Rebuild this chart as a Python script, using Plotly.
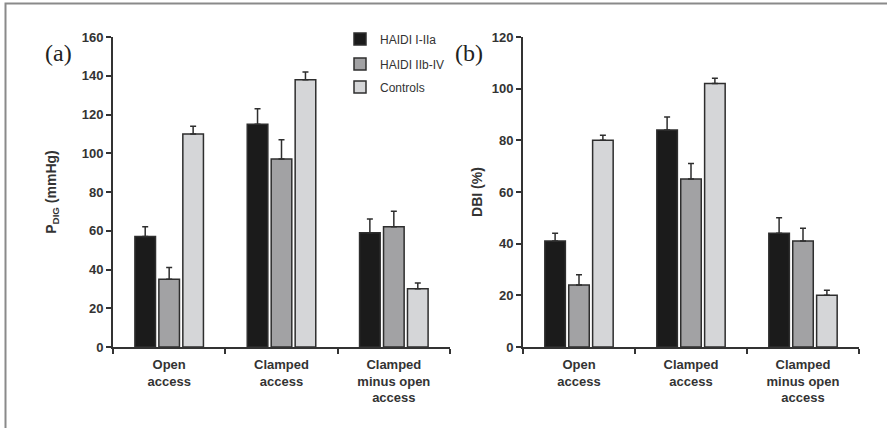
import plotly.graph_objects as go

# Groups and series
categories = ["Open<br>access", "Clamped<br>access", "Clamped<br>minus open<br>access"]
series_names = ["HAIDI I-IIa", "HAIDI IIb-IV", "Controls"]

# Panel (a): digital pressure, mmHg (mean, upper error)
pdig_mean = [[57, 115, 59], [35, 97, 62], [110, 138, 30]]
pdig_err = [[5, 8, 7], [6, 10, 8], [4, 4, 3]]
pdig_ticks = [0, 20, 40, 60, 80, 100, 120, 140, 160]

# Panel (b): digital brachial index, % (mean, upper error)
dbi_mean = [[41, 84, 44], [24, 65, 41], [80, 102, 20]]
dbi_err = [[3, 5, 6], [4, 6, 5], [2, 2, 2]]
dbi_ticks = [0, 20, 40, 60, 80, 100, 120]

colors = ["#1b1b1b", "#a2a2a4", "#d5d6d8"]
edge = "#2e2e2e"
ink = "#333333"
W, H = 887, 428

legend_ids = ["legend", "legend2", "legend3"]
legend_rows = [39, 64, 87]  # vertical centre of each legend entry, px

fig = go.Figure()

for panel, (means, errs) in enumerate([(pdig_mean, pdig_err), (dbi_mean, dbi_err)]):
    xa = "x" if panel == 0 else "x2"
    ya = "y" if panel == 0 else "y2"
    for i, name in enumerate(series_names):
        fig.add_trace(go.Bar(
            x=categories, y=means[i], name=name,
            xaxis=xa, yaxis=ya,
            legend=legend_ids[i],
            showlegend=(panel == 0),
            marker=dict(color=colors[i], line=dict(color=edge, width=1.5)),
            error_y=dict(type="data", array=errs[i], arrayminus=[0] * 3,
                         symmetric=False, color=edge, thickness=1.5, width=3),
        ))

def px_x(p):
    return p / W

def px_y(p):
    return 1 - p / H

def bold(s):
    return "<b>" + str(s).replace("<br>", "</b><br><b>") + "</b>"

axis_common = dict(showline=True, linecolor=ink, linewidth=2,
                   showgrid=False, zeroline=False, ticks="outside",
                   tickcolor=ink, tickwidth=2, ticklen=5, automargin=False)
xtick = dict(tickson="boundaries", tickvals=categories,
             ticktext=[bold(c) for c in categories], ticklabelstandoff=4,
             tickfont=dict(family="Arial", size=13, color=ink))
ytickfont = dict(family="Arial", size=13, color=ink)
title_font = dict(family="Arial", size=14, color=ink)

legend_style = dict(x=px_x(340), xanchor="left", yanchor="middle",
                    bgcolor="rgba(0,0,0,0)", itemwidth=30,
                    font=dict(family="Arial", size=12, color=ink))

fig.update_layout(
    width=W, height=H,
    margin=dict(l=0, r=0, t=0, b=0, autoexpand=False),
    paper_bgcolor="white", plot_bgcolor="white",
    barmode="group", bargap=0.36, bargroupgap=0.14,
    font=dict(family="Arial", color=ink),
    xaxis=dict(domain=[px_x(113), px_x(450)], anchor="y", **xtick, **axis_common),
    yaxis=dict(domain=[px_y(347), px_y(37)], anchor="x", range=[0, 160],
               tickvals=pdig_ticks, ticktext=[bold(t) for t in pdig_ticks],
               tickfont=ytickfont,
               title=dict(text="<b>P<sub>DIG</sub> (mmHg)</b>", standoff=22,
                          font=title_font),
               **axis_common),
    xaxis2=dict(domain=[px_x(523), px_x(859)], anchor="y2", **xtick, **axis_common),
    yaxis2=dict(domain=[px_y(347), px_y(37)], anchor="x2", range=[0, 120],
                tickvals=dbi_ticks, ticktext=[bold(t) for t in dbi_ticks],
                tickfont=ytickfont,
                title=dict(text="<b>DBI (%)</b>", standoff=6, font=title_font),
                **axis_common),
    legend=dict(y=px_y(legend_rows[0]), **legend_style),
    legend2=dict(y=px_y(legend_rows[1]), **legend_style),
    legend3=dict(y=px_y(legend_rows[2]), **legend_style),
)

# Panel letters
fig.add_annotation(text="(a)", x=px_x(58), y=px_y(53), xref="paper", yref="paper",
                   xanchor="center", yanchor="middle", showarrow=False,
                   font=dict(family="Liberation Serif", size=24, color="#222222"))
fig.add_annotation(text="(b)", x=px_x(469), y=px_y(53), xref="paper", yref="paper",
                   xanchor="center", yanchor="middle", showarrow=False,
                   font=dict(family="Liberation Serif", size=24, color="#222222"))

# Outer frame
fig.add_shape(type="rect", xref="paper", yref="paper",
              x0=px_x(5.5), x1=1.05, y0=-0.05, y1=px_y(3.5),
              line=dict(color="#8a8a8a", width=2), layer="below")

fig.write_html("out.html")
